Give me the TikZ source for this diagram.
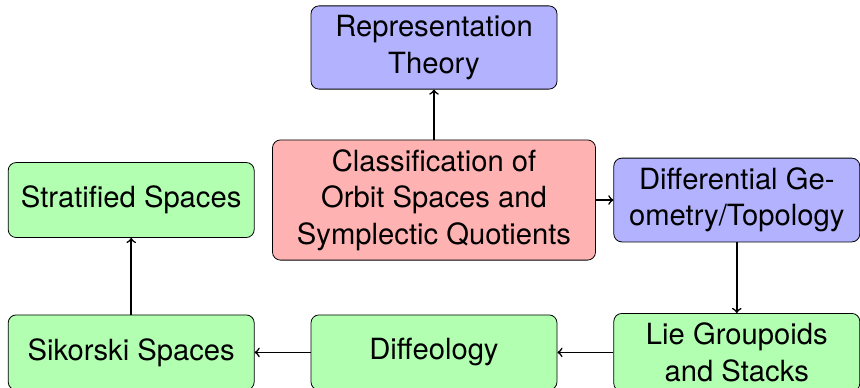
\documentclass[tikz,border=0pt]{standalone}
\usepackage{fontspec}
\setmainfont{TeX Gyre Heros}
\usetikzlibrary{positioning}

\begin{document}
\begin{tikzpicture}[
        node distance=25pt and 28pt,
        box/.style={rectangle, draw, rounded corners=4pt, minimum width=123pt, minimum height=37.5pt, align=center, inner sep=4.8pt, font=\fontsize{14.6}{18.2}\selectfont},
        arrow/.style={->, thick}
    ]
        \useasboundingbox (-217pt,23.75pt) rectangle (213pt,-169.75pt);

        \node[box, fill=blue!30] (REP) {Representation\\Theory};
        \node[box, fill=red!30, minimum width=161.5pt, below=of REP] (CLS) {Classification of\\Orbit Spaces and\\Symplectic Quotients};

        \node[box, fill=green!30, below=27pt of CLS] (DIF) {Diffeology};
        \node[box, fill=green!30, right=of DIF] (LIE) {Lie Groupoids\\and Stacks};
        \node[box, fill=green!30, left=of DIF] (SIK) {Sikorski Spaces};

        \node[box, fill=blue!30] (GEO) at (LIE |- CLS) {Differential Ge-\\ometry/Topology};
        \node[box, fill=green!30] (STR) at (SIK |- CLS) {Stratified Spaces};

        \draw[arrow] (CLS) -- (REP);
        \draw[arrow] (CLS) -- (GEO);
        \draw[arrow] (GEO) -- (LIE);
        \draw[arrow] (LIE) -- (DIF);
        \draw[arrow] (DIF) -- (SIK);
        \draw[arrow] (SIK) -- (STR);
    \end{tikzpicture}
\end{document}
